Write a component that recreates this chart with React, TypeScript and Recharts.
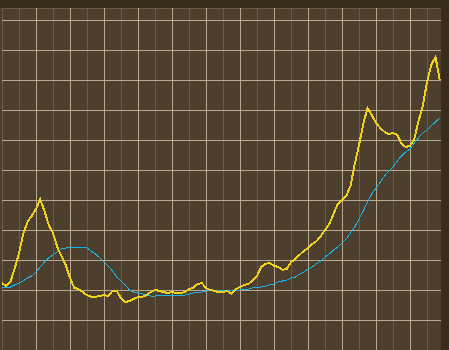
import { CartesianGrid, Line, LineChart, ReferenceLine, XAxis, YAxis } from 'recharts';

// samples every quarter unit along x
const STEP = 0.25;

const yellowSeries = [
  22.3, 21.3, 22.7, 27.3, 32.3, 38.7, 42.7, 44.7, 47.0, 50.3,
  46.3, 41.7, 39.0, 34.3, 31.3, 28.3, 24.0, 20.7, 20.3, 19.3,
  18.3, 17.7, 17.7, 18.0, 18.3, 18.0, 19.7, 19.7, 17.3, 16.0,
  16.3, 17.0, 17.7, 17.7, 18.3, 19.3, 20.0, 19.7, 19.3, 19.0,
  19.3, 19.0, 19.0, 19.3, 20.3, 20.7, 22.0, 22.3, 20.7, 20.0,
  19.7, 19.3, 19.3, 19.7, 18.7, 20.3, 21.0, 21.7, 22.0, 23.3,
  24.7, 27.7, 28.7, 29.0, 28.0, 27.7, 26.7, 27.0, 29.3, 30.3,
  31.7, 33.0, 34.0, 35.3, 36.3, 38.0, 40.0, 42.0, 45.3, 48.7,
  50.0, 51.3, 54.7, 62.0, 68.3, 75.3, 80.7, 78.3, 75.7, 74.0,
  72.7, 72.0, 72.3, 71.7, 68.7, 67.7, 68.0, 70.3, 76.3, 81.3,
  89.3, 95.0, 97.7, 90.0,
];

const blueSeries = [
  20.7, 21.0, 21.0, 21.7, 22.3, 23.0, 24.0, 24.7, 26.0, 27.7,
  29.3, 30.7, 31.7, 32.7, 33.7, 34.0, 34.3, 34.3, 34.3, 34.3,
  34.0, 33.0, 32.0, 30.7, 29.3, 28.0, 26.3, 24.3, 23.0, 21.7,
  20.0, 19.3, 19.0, 18.7, 18.3, 18.0, 18.0, 18.3, 18.3, 18.3,
  18.3, 18.3, 18.3, 18.3, 18.7, 19.0, 19.3, 19.3, 19.7, 19.7,
  19.7, 19.7, 19.7, 19.7, 20.0, 20.0, 20.0, 20.3, 20.3, 20.7,
  21.0, 21.0, 21.3, 21.7, 22.0, 22.7, 23.0, 23.3, 24.0, 24.3,
  25.3, 26.0, 27.0, 27.7, 28.7, 29.7, 31.0, 32.0, 33.3, 34.3,
  35.7, 37.0, 39.0, 41.0, 43.7, 46.3, 49.3, 52.0, 54.0, 56.0,
  58.0, 59.7, 61.0, 63.0, 64.7, 66.0, 67.0, 69.0, 70.7, 72.3,
  73.3, 74.7, 76.0, 77.3,
];

const xTicks = [1, 2, 3, 4, 5, 6, 7, 8, 9, 10, 11, 12, 13, 14, 15, 16, 17, 18, 19, 20, 21, 22, 23, 24, 25];
const xMajor = [2, 4, 6, 8, 10, 12, 14, 16, 18, 20, 22, 24];
const yTicks = [5, 10, 15, 20, 25, 30, 35, 40, 45, 50, 55, 60, 65, 70, 75, 80, 85, 90, 95, 100, 105, 110];
const yMajor = [10, 20, 30, 40, 50, 60, 70, 80, 90, 100, 110];

const data = yellowSeries.map((v, i) => ({ t: i * STEP, yellow: v, blue: blueSeries[i] }));

const TICK = '#e2d8c6';

const LeftTick = (props: any) => (
  <line x1={props.x - 2} x2={props.x + 3} y1={props.y} y2={props.y} stroke={TICK} strokeWidth={1} />
);

const BottomTick = (props: any) => (
  <line x1={props.x} x2={props.x} y1={props.y - 3} y2={props.y + 2} stroke={TICK} strokeWidth={1} />
);

export default function App() {
  return (
    <div
      style={{
        position: 'absolute',
        left: 0,
        top: 0,
        width: 449,
        height: 350,
        overflow: 'hidden',
        background: '#382d1c',
      }}
    >
      <div style={{ position: 'absolute', left: 0, top: 8, width: 441, height: 342, background: '#4d3f2d' }} />
      <div style={{ position: 'absolute', left: 0, top: 0 }}>
        <LineChart
          width={441}
          height={350}
          data={data}
          margin={{ top: 8, right: 0, bottom: 0, left: 2 }}
          style={{ shapeRendering: 'crispEdges' }}
        >
          <CartesianGrid stroke="#6a5b46" strokeWidth={1} />
          {yMajor.map((v) => (
            <ReferenceLine key={'y' + v} y={v} stroke="#b8a88f" strokeWidth={1} />
          ))}
          {xMajor.map((v) => (
            <ReferenceLine key={'x' + v} x={v} stroke="#b8a88f" strokeWidth={1} />
          ))}
          <XAxis
            dataKey="t"
            type="number"
            domain={[0, 439 / 17]}
            ticks={xTicks}
            height={0}
            axisLine={false}
            tickLine={false}
            tickSize={0}
            tickMargin={0}
            tick={BottomTick}
            allowDataOverflow
          />
          <YAxis
            type="number"
            domain={[0, 114]}
            ticks={yTicks}
            width={0}
            axisLine={{ stroke: TICK, strokeWidth: 1 }}
            tickLine={false}
            tickSize={0}
            tickMargin={0}
            tick={LeftTick}
            allowDataOverflow
          />
          <Line
            type="linear"
            dataKey="blue"
            stroke="#1ab3e3"
            strokeWidth={1}
            dot={false}
            isAnimationActive={false}
          />
          <Line
            type="linear"
            dataKey="yellow"
            stroke="#f0d21c"
            strokeWidth={2}
            dot={false}
            isAnimationActive={false}
          />
        </LineChart>
      </div>
    </div>
  );
}
